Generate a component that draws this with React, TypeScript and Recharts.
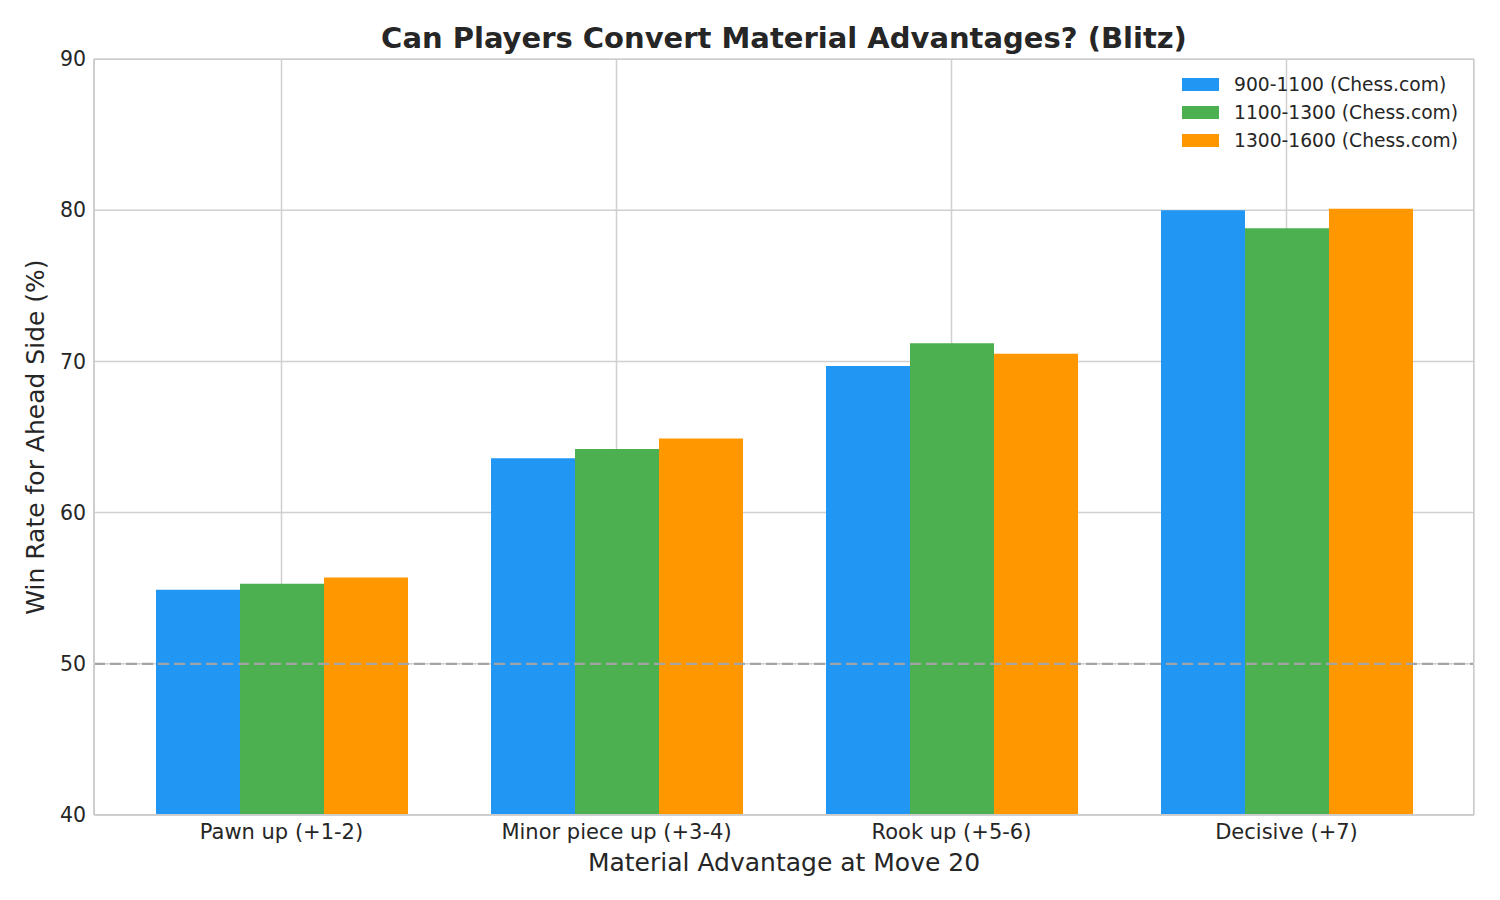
import { BarChart, Bar, XAxis, YAxis, CartesianGrid, ReferenceLine, Label } from 'recharts'

// values
const CATEGORIES = ['Pawn up (+1-2)', 'Minor piece up (+3-4)', 'Rook up (+5-6)', 'Decisive (+7)']
const ELO_900_1100 = [54.9, 63.6, 69.7, 80.0]
const ELO_1100_1300 = [55.3, 64.2, 71.2, 78.8]
const ELO_1300_1600 = [55.7, 64.9, 70.5, 80.1]
const Y_TICKS = [40, 50, 60, 70, 80, 90]

const SERIES = [
  { key: 'a', name: '900-1100 (Chess.com)', color: '#2196F3', values: ELO_900_1100 },
  { key: 'b', name: '1100-1300 (Chess.com)', color: '#4CAF50', values: ELO_1100_1300 },
  { key: 'c', name: '1300-1600 (Chess.com)', color: '#FF9800', values: ELO_1300_1600 },
]

const data = CATEGORIES.map((cat, i) => {
  const row: Record<string, string | number> = { cat }
  SERIES.forEach((s) => { row[s.key] = s.values[i] })
  return row
})

const FONT = '"DejaVu Sans", sans-serif'
const TEXT = '#262626'
const GRID = '#d0d0d0'

function LegendBox() {
  return (
    <div style={{
      position: 'absolute', left: 1182, top: 70, fontFamily: FONT, fontSize: 18.7, color: TEXT,
      pointerEvents: 'none',
    }}>
      {SERIES.map((s) => (
        <div key={s.key} style={{ display: 'flex', alignItems: 'center', height: 28.3, whiteSpace: 'nowrap' }}>
          <span style={{ width: 37, height: 13, background: s.color, marginRight: 15 }} />
          <span>{s.name}</span>
        </div>
      ))}
    </div>
  )
}

export default function App() {
  return (
    <div style={{ position: 'absolute', left: 0, top: 0, width: 1500, height: 900, background: '#fff' }}>
      <div style={{
        position: 'absolute', left: 94, width: 1380, top: 20, textAlign: 'center',
        fontFamily: FONT, fontWeight: 'bold', fontSize: 29, color: TEXT, lineHeight: '36px',
      }}>
        Can Players Convert Material Advantages? (Blitz)
      </div>
      <BarChart
        width={1500}
        height={900}
        data={data}
        margin={{ top: 59, right: 26, bottom: 55, left: 34 }}
        barSize={84}
        barGap={0}
      >
        <CartesianGrid stroke={GRID} strokeWidth={1.5} />
        <XAxis
          dataKey="cat"
          padding={{ left: 20, right: 20 }}
          height={30}
          axisLine={{ stroke: '#cccccc', strokeWidth: 1.5 }}
          tickLine={false}
          tick={{ fontFamily: FONT, fontSize: 21, fill: TEXT }}
          tickMargin={3}
        >
          <Label
            value="Material Advantage at Move 20"
            position="bottom"
            offset={8}
            style={{ fontFamily: FONT, fontSize: 25, fill: TEXT }}
          />
        </XAxis>
        <YAxis
          width={60}
          domain={[40, 90]}
          ticks={Y_TICKS}
          allowDataOverflow
          axisLine={{ stroke: '#cccccc', strokeWidth: 1.5 }}
          tickLine={false}
          tick={{ fontFamily: FONT, fontSize: 20.5, fill: TEXT }}
          tickMargin={2}
        >
          <Label
            value="Win Rate for Ahead Side (%)"
            position="insideLeft"
            content={({ viewBox }: any) => {
              const cx = viewBox.x + 1
              const cy = viewBox.y + viewBox.height / 2
              return (
                <text
                  x={cx}
                  y={cy}
                  transform={`rotate(-90, ${cx}, ${cy})`}
                  textAnchor="middle"
                  dominantBaseline="central"
                  style={{ fontFamily: FONT, fontSize: 25, fill: TEXT }}
                >
                  Win Rate for Ahead Side (%)
                </text>
              )
            }}
          />
        </YAxis>
        {SERIES.map((s) => (
          <Bar key={s.key} dataKey={s.key} name={s.name} fill={s.color} isAnimationActive={false} />
        ))}
        <ReferenceLine y={50} stroke="#a3a3a3" strokeWidth={2.3} strokeDasharray="11 5" ifOverflow="visible" />
      </BarChart>
      <LegendBox />
      <div style={{
        position: 'absolute', left: 94, top: 59, width: 1380, height: 756,
        boxSizing: 'border-box', border: '1.5px solid #cccccc', pointerEvents: 'none',
      }} />
    </div>
  )
}
